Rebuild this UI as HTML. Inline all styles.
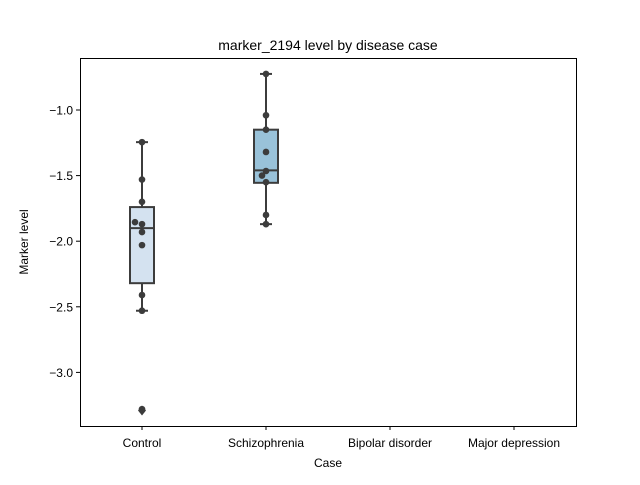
<!DOCTYPE html>
<html><head><meta charset="utf-8"><style>body{margin:0;background:#fff}svg{font-family:"Liberation Sans","DejaVu Sans",sans-serif}</style></head>
<body>
<svg id="chart" width="640" height="480" xmlns="http://www.w3.org/2000/svg">
<rect x="0" y="0" width="640" height="480" fill="#fff"/>
<text x="328" y="50" font-size="14" text-anchor="middle">marker_2194 level by disease case</text>
<g id="plot"></g>
<rect x="80.5" y="58.5" width="496" height="368" fill="none" stroke="#000" stroke-width="1"/>
<text x="328" y="467" font-size="12" text-anchor="middle">Case</text>
<text transform="translate(28,242) rotate(-90)" font-size="12" text-anchor="middle">Marker level</text>
</svg>
<script>
const categories = ["Control","Schizophrenia","Bipolar disorder","Major depression"];
const boxColors = ["#d4e2f0","#99c2d9",null,null];
const q1 = [-2.32,-1.555,null,null];
const median = [-1.90,-1.46,null,null];
const q3 = [-1.74,-1.15,null,null];
const whiskLow = [-2.53,-1.87,null,null];
const whiskHigh = [-1.245,-0.725,null,null];
const outliers = [[-3.29],[],[],[]];
const pointsControl = [-1.245,-1.53,-1.70,-1.855,-1.87,-1.93,-2.03,-2.41,-2.53];
const pointsSchizo = [-0.725,-1.04,-1.15,-1.32,-1.465,-1.50,-1.55,-1.80,-1.87];
const yTicks = [-1.0,-1.5,-2.0,-2.5,-3.0];
const yTickLabels = ["\u22121.0","\u22121.5","\u22122.0","\u22122.5","\u22123.0"];

const NS="http://www.w3.org/2000/svg";
const g=document.getElementById('plot');
const y=v=>110+(-1-v)*131.2;
const x=i=>142+i*124;
function mk(t,a){const e=document.createElementNS(NS,t);for(const k in a)e.setAttribute(k,a[k]);g.appendChild(e);return e;}
yTicks.forEach((v,i)=>{
  const t=mk('line',{x1:76,x2:80,y1:y(v),y2:y(v),stroke:'#000'});
  
  
  const l=mk('text',{x:73,y:y(v)+4.5,'font-size':12,'text-anchor':'end'});l.textContent=yTickLabels[i];
  
  
});
categories.forEach((c,i)=>{
  const t=mk('line',{x1:x(i),x2:x(i),y1:426,y2:430,stroke:'#000'});
  
  
  const l=mk('text',{x:x(i),y:447,'font-size':12,'text-anchor':'middle'});l.textContent=c;
  
  
  if(q1[i]==null)return;
  const col='#3c3c3c',cx=x(i);
  const w1=mk('line',{x1:cx,x2:cx,y1:y(q3[i]),y2:y(whiskHigh[i]),stroke:col,'stroke-width':2});
  
  
  const w2=mk('line',{x1:cx,x2:cx,y1:y(q1[i]),y2:y(whiskLow[i]),stroke:col,'stroke-width':2});
  
  
  [whiskHigh[i],whiskLow[i]].forEach(v=>{const c2=mk('line',{x1:cx-6,x2:cx+6,y1:y(v),y2:y(v),stroke:col,'stroke-width':2});
    
    });
  const b=mk('rect',{x:cx-12,y:y(q3[i]),width:24,height:y(q1[i])-y(q3[i]),fill:boxColors[i],stroke:col,'stroke-width':2});
  
  
  const m=mk('line',{x1:cx-12,x2:cx+12,y1:y(median[i]),y2:y(median[i]),stroke:col,'stroke-width':2});
  
  
  outliers[i].forEach(v=>{const o=mk('path',{d:`M${cx} ${y(v)-5}L${cx+4} ${y(v)}L${cx} ${y(v)+5}L${cx-4} ${y(v)}Z`,fill:col});
    
    });
});
function strip(arr,i,offs){arr.forEach((v,k)=>{const p=mk('circle',{cx:x(i)+(offs[k]||0),cy:y(v),r:3.3,fill:'#3c3c3c'});
  
  });}
strip(pointsControl,0,[0,0,0,-7,0,0,0,0,0]);
strip(pointsSchizo,1,[0,0,0,0,0,-4,0,0,0]);
const pc=mk('circle',{cx:x(0),cy:y(-3.28),r:3.3,fill:'#3c3c3c'});


</script>
</body></html>
